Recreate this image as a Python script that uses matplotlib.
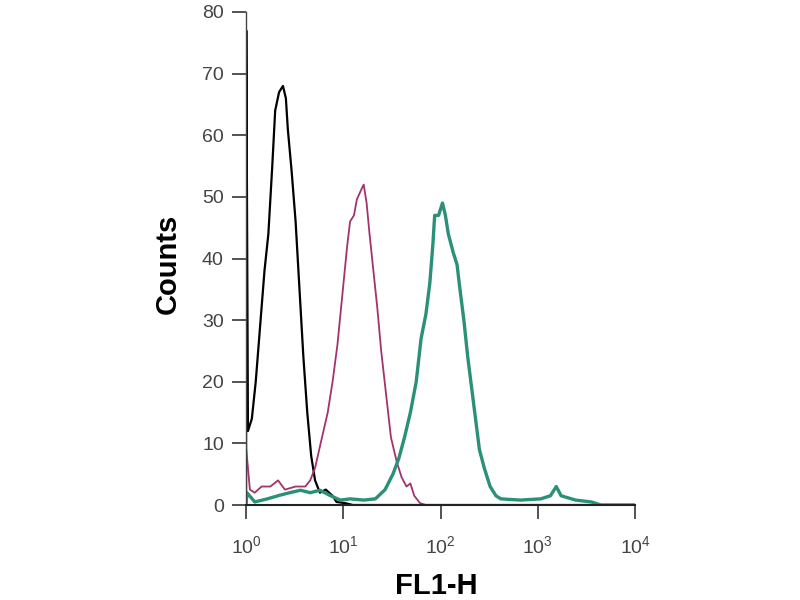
import numpy as np
import matplotlib
matplotlib.use('Agg')
import matplotlib.pyplot as plt
from matplotlib.ticker import LogLocator, LogFormatterMathtext, NullLocator

# histogram traces: position in decades (log10 FL1-H), counts
black_dec = [0.0, 0.003, 0.02, 0.06, 0.10, 0.14, 0.19, 0.23, 0.27, 0.30, 0.34, 0.38,
             0.41, 0.43, 0.47, 0.51, 0.55, 0.59, 0.63, 0.67, 0.71, 0.76, 0.82, 0.89,
             0.93, 1.02, 1.10, 1.50, 2.0, 4.0]
black_cnt = [0, 77, 12, 14, 20, 28, 38, 44, 55, 64, 67, 68,
             66, 61, 54, 46, 35, 24, 15, 8, 4, 2, 2.5, 1.5,
             0.5, 0.3, 0, 0, 0, 0]

magenta_dec = [0.0, 0.003, 0.04, 0.09, 0.16, 0.25, 0.33, 0.40, 0.51, 0.61, 0.66, 0.71,
               0.76, 0.84, 0.89, 0.94, 0.99, 1.04, 1.07, 1.11, 1.14, 1.18, 1.21, 1.24,
               1.27, 1.31, 1.35, 1.39, 1.44, 1.49, 1.55, 1.60, 1.65, 1.69, 1.73, 1.79,
               1.85, 4.0]
magenta_cnt = [0, 9, 2.5, 2, 3, 3, 4, 2.5, 3, 3, 4, 6,
               9.5, 15, 20, 26, 34, 42, 46, 47, 49.6, 51, 52, 49,
               44, 38, 32, 25, 18, 11, 7, 4.5, 3, 3.5, 1.5, 0.3,
               0, 0]

teal_dec = [0.0, 0.01, 0.09, 0.22, 0.35, 0.45, 0.56, 0.66, 0.76, 0.87, 0.97, 1.07,
            1.21, 1.33, 1.43, 1.51, 1.57, 1.63, 1.69, 1.75, 1.80, 1.85, 1.89, 1.92,
            1.94, 1.98, 2.02, 2.05, 2.08, 2.13, 2.17, 2.20, 2.24, 2.28, 2.32, 2.36,
            2.40, 2.45, 2.51, 2.57, 2.62, 2.82, 3.03, 3.13, 3.19, 3.24, 3.39, 3.55,
            3.65, 4.0]
teal_cnt = [0, 2, 0.5, 1, 1.6, 2, 2.4, 2, 2.4, 1.5, 0.8, 1,
            0.8, 1, 2.5, 5, 7.5, 11, 15, 20, 27, 31, 36, 42,
            47, 47, 49, 47, 44, 41, 39, 35, 30, 24, 19, 14,
            9, 6, 3, 1.5, 1, 0.8, 1, 1.5, 3, 1.5, 0.8, 0.5,
            0, 0]

y_ticks = [0, 10, 20, 30, 40, 50, 60, 70, 80]

plt.rcParams['font.family'] = ['Liberation Sans', 'DejaVu Sans']

fig = plt.figure(figsize=(8, 6), dpi=100)
ax = fig.add_axes([0.3075, 0.1583, 0.4863, 0.8217])

ax.plot(10 ** np.array(black_dec), black_cnt, color='black', lw=1.6)
ax.plot(10 ** np.array(magenta_dec), magenta_cnt, color='#a3326d', lw=1.3)
ax.plot(10 ** np.array(teal_dec), teal_cnt, color='#2b9078', lw=2.4)

ax.set_xscale('log')
ax.set_xlim(1, 1e4)
ax.set_ylim(0, 80)
ax.set_yticks(y_ticks)

ax.xaxis.set_major_locator(LogLocator(base=10, numticks=10))
ax.xaxis.set_major_formatter(LogFormatterMathtext())
ax.xaxis.set_minor_locator(NullLocator())

for s in ['top', 'right']:
    ax.spines[s].set_visible(False)
ax.spines['left'].set_color('#444444')
ax.spines['left'].set_linewidth(1.0)
ax.spines['bottom'].set_color('#222222')
ax.spines['bottom'].set_linewidth(1.5)

ax.tick_params(axis='y', direction='out', length=10, width=1.3, pad=6,
               labelsize=14, colors='#444444')
ax.tick_params(axis='x', direction='out', length=10, width=1.3, pad=12,
               labelsize=14, colors='#444444')

ax.set_ylabel('Counts', fontsize=21, fontweight='bold')
ax.set_xlabel('FL1-H', fontsize=21, fontweight='bold')
ax.yaxis.set_label_coords(-0.165, 0.489)
ax.xaxis.set_label_coords(0.488, -0.136)

fig.savefig('out.png', dpi=100)
